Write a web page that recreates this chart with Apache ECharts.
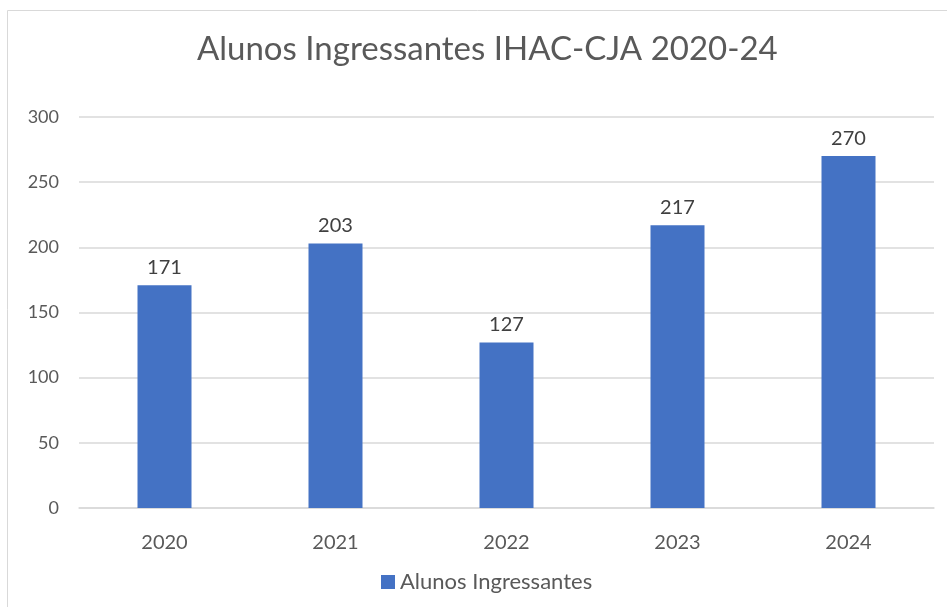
<!DOCTYPE html>
<html>
<head>
<meta charset="utf-8">
<script src="https://cdn.jsdelivr.net/npm/echarts@6/dist/echarts.min.js"></script>
<style>html,body{margin:0;padding:0;background:#fff}#c{width:947px;height:607px}</style>
</head>
<body>
<div id="c"></div>
<script>
const categories = ['2020', '2021', '2022', '2023', '2024'];
const values = [171, 203, 127, 217, 270];
const seriesName = 'Alunos Ingressantes';
const titleText = 'Alunos Ingressantes IHAC-CJA 2020-24';

const chart = echarts.init(document.getElementById('c'));
chart.setOption({
  animation: false,
  textStyle: { fontFamily: 'Lato' },
  graphic: [{
    type: 'rect', left: 5, top: 8,
    shape: { width: 960, height: 620 },
    style: { fill: 'none', stroke: '#d9d9d9', lineWidth: 1 },
    silent: true
  }],
  title: {
    text: titleText, left: 192, top: 28,
    textStyle: { fontFamily: 'Lato', fontSize: 33, fontWeight: 'normal', color: '#595959' }
  },
  legend: {
    bottom: 9, left: 376,
    itemWidth: 14, itemHeight: 14, icon: 'rect', itemGap: 9,
    textStyle: { fontFamily: 'Lato', fontSize: 22, color: '#595959' }
  },
  grid: { left: 79, right: 13, top: 117, bottom: 99 },
  xAxis: {
    type: 'category', data: categories,
    axisLine: { lineStyle: { color: '#d9d9d9', width: 1.5 } },
    axisTick: { show: false },
    axisLabel: { fontFamily: 'Lato', fontSize: 20, color: '#595959', margin: 25 }
  },
  yAxis: {
    type: 'value', min: 0, max: 300, interval: 50,
    axisLine: { show: false }, axisTick: { show: false },
    splitLine: { lineStyle: { color: '#d9d9d9', width: 1.5 } },
    axisLabel: { fontFamily: 'Lato', fontSize: 18, color: '#595959', margin: 20 }
  },
  series: [{
    name: seriesName, type: 'bar', data: values, barWidth: 54,
    itemStyle: { color: '#4472c4' },
    label: { show: true, position: 'top', distance: 8, fontFamily: 'Lato', fontSize: 20, color: '#404040' }
  }]
});
</script>
</body>
</html>
